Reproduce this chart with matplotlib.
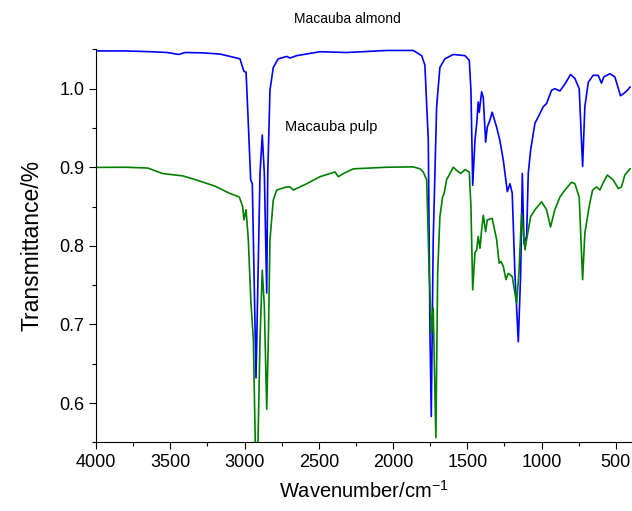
import matplotlib
matplotlib.use("Agg")
import matplotlib.pyplot as plt
from matplotlib.ticker import MultipleLocator

plt.rcParams["font.family"] = ["Liberation Sans", "DejaVu Sans"]
plt.rcParams["mathtext.default"] = "regular"

# Macauba almond (blue)
almond_wn = [4000, 3800, 3630, 3520, 3444, 3400, 3287, 3165, 3031, 3013, 3004, 2990,
             2975, 2959, 2948, 2923, 2896, 2881, 2867, 2851, 2844, 2829, 2807, 2773,
             2716, 2694, 2649, 2492, 2312, 2043, 1864, 1808, 1786, 1763, 1752, 1743,
             1730, 1707, 1685, 1651, 1595, 1516, 1487, 1476, 1464, 1449, 1437, 1427,
             1420, 1404, 1393, 1377, 1366, 1348, 1333, 1303, 1281, 1258, 1231, 1213,
             1198, 1180, 1157, 1141, 1130, 1119, 1101, 1090, 1074, 1045, 1023, 989,
             967, 933, 911, 877, 843, 805, 776, 747, 724, 709, 686, 653, 619, 597,
             581, 540, 507, 469, 446, 423, 405]
almond_t = [1.048, 1.048, 1.047, 1.046, 1.0435, 1.046, 1.0456, 1.044, 1.038, 1.027, 1.022, 1.021,
            0.956, 0.884, 0.879, 0.632, 0.892, 0.941, 0.892, 0.740, 0.892, 0.998, 1.027, 1.038,
            1.041, 1.039, 1.042, 1.047, 1.046, 1.0486, 1.0486, 1.042, 1.030, 0.934, 0.693, 0.583,
            0.807, 0.977, 1.027, 1.038, 1.0435, 1.042, 1.036, 0.998, 0.877, 0.934, 0.956, 0.983,
            0.970, 0.996, 0.989, 0.932, 0.951, 0.960, 0.970, 0.951, 0.934, 0.909, 0.869, 0.879,
            0.867, 0.765, 0.678, 0.765, 0.892, 0.803, 0.812, 0.892, 0.922, 0.956, 0.964, 0.977,
            0.981, 0.998, 1.000, 0.997, 1.006, 1.018, 1.013, 1.000, 0.901, 0.977, 1.008, 1.017, 1.017, 1.007,
            1.015, 1.019, 1.015, 0.991, 0.994, 0.998, 1.002]

# Macauba pulp (green)
pulp_wn = [4000, 3800, 3652, 3551, 3416, 3327, 3200, 3103, 3035, 3013, 3004, 2990,
           2975, 2957, 2941, 2925, 2912, 2896, 2881, 2867, 2851, 2840, 2829, 2807,
           2784, 2716, 2694, 2672, 2582, 2492, 2391, 2369, 2335, 2268, 2043, 1864,
           1819, 1797, 1774, 1757, 1741, 1730, 1712, 1700, 1685, 1667, 1656, 1640,
           1595, 1572, 1545, 1516, 1487, 1476, 1464, 1449, 1437, 1427, 1415, 1404,
           1393, 1377, 1366, 1333, 1303, 1286, 1274, 1258, 1240, 1225, 1198, 1180,
           1168, 1153, 1135, 1124, 1112, 1101, 1074, 1045, 1000, 967, 940, 911,
           877, 843, 798, 776, 747, 724, 709, 680, 657, 630, 608, 589, 558, 518,
           484, 462, 440, 405]
pulp_t = [0.8998, 0.900, 0.899, 0.892, 0.889, 0.884, 0.876, 0.867, 0.862, 0.850, 0.833, 0.846,
          0.808, 0.727, 0.681, 0.52, 0.53, 0.681, 0.769, 0.723, 0.592, 0.681, 0.808, 0.858,
          0.871, 0.875, 0.875, 0.871, 0.879, 0.888, 0.894, 0.888, 0.892, 0.898, 0.900, 0.9005,
          0.898, 0.894, 0.884, 0.765, 0.689, 0.721, 0.556, 0.765, 0.837, 0.862, 0.867, 0.884,
          0.900, 0.896, 0.892, 0.897, 0.894, 0.850, 0.744, 0.791, 0.795, 0.812, 0.797, 0.820,
          0.839, 0.818, 0.833, 0.835, 0.808, 0.778, 0.780, 0.774, 0.757, 0.765, 0.761, 0.740,
          0.727, 0.765, 0.841, 0.820, 0.795, 0.808, 0.837, 0.846, 0.856, 0.846, 0.824, 0.846,
          0.862, 0.871, 0.881, 0.879, 0.862, 0.757, 0.816, 0.850, 0.871, 0.875, 0.871, 0.879, 0.890, 0.884,
          0.873, 0.875, 0.890, 0.898]

fig = plt.figure(figsize=(6.32, 5.11), dpi=100)
ax = fig.add_axes([0.152, 0.1344, 0.846, 0.769])

ax.plot(almond_wn, almond_t, color="#0000FF", lw=1.2)
ax.plot(pulp_wn, pulp_t, color="#008000", lw=1.2)

ax.set_xlim(4000, 400)
ax.set_ylim(0.55, 1.05)
ax.xaxis.set_major_locator(MultipleLocator(500))
ax.xaxis.set_minor_locator(MultipleLocator(250))
ax.yaxis.set_major_locator(MultipleLocator(0.1))
ax.yaxis.set_minor_locator(MultipleLocator(0.05))
ax.tick_params(which="major", direction="out", length=5, width=0.8, labelsize=13)
ax.tick_params(which="minor", direction="out", length=3, width=0.8)
for side in ("top", "right"):
    ax.spines[side].set_visible(False)

ax.set_xlabel("Wavenumber/cm$^{-1}$", fontsize=14.5, labelpad=6)
ax.set_ylabel("Transmittance/%", fontsize=16.5, labelpad=11)

ax.text(2310, 1.089, "Macauba almond", fontsize=10, ha="center", va="center", clip_on=False)
ax.text(2420, 0.951, "Macauba pulp", fontsize=10.5, ha="center", va="center")

fig.savefig("out.png", dpi=100)
